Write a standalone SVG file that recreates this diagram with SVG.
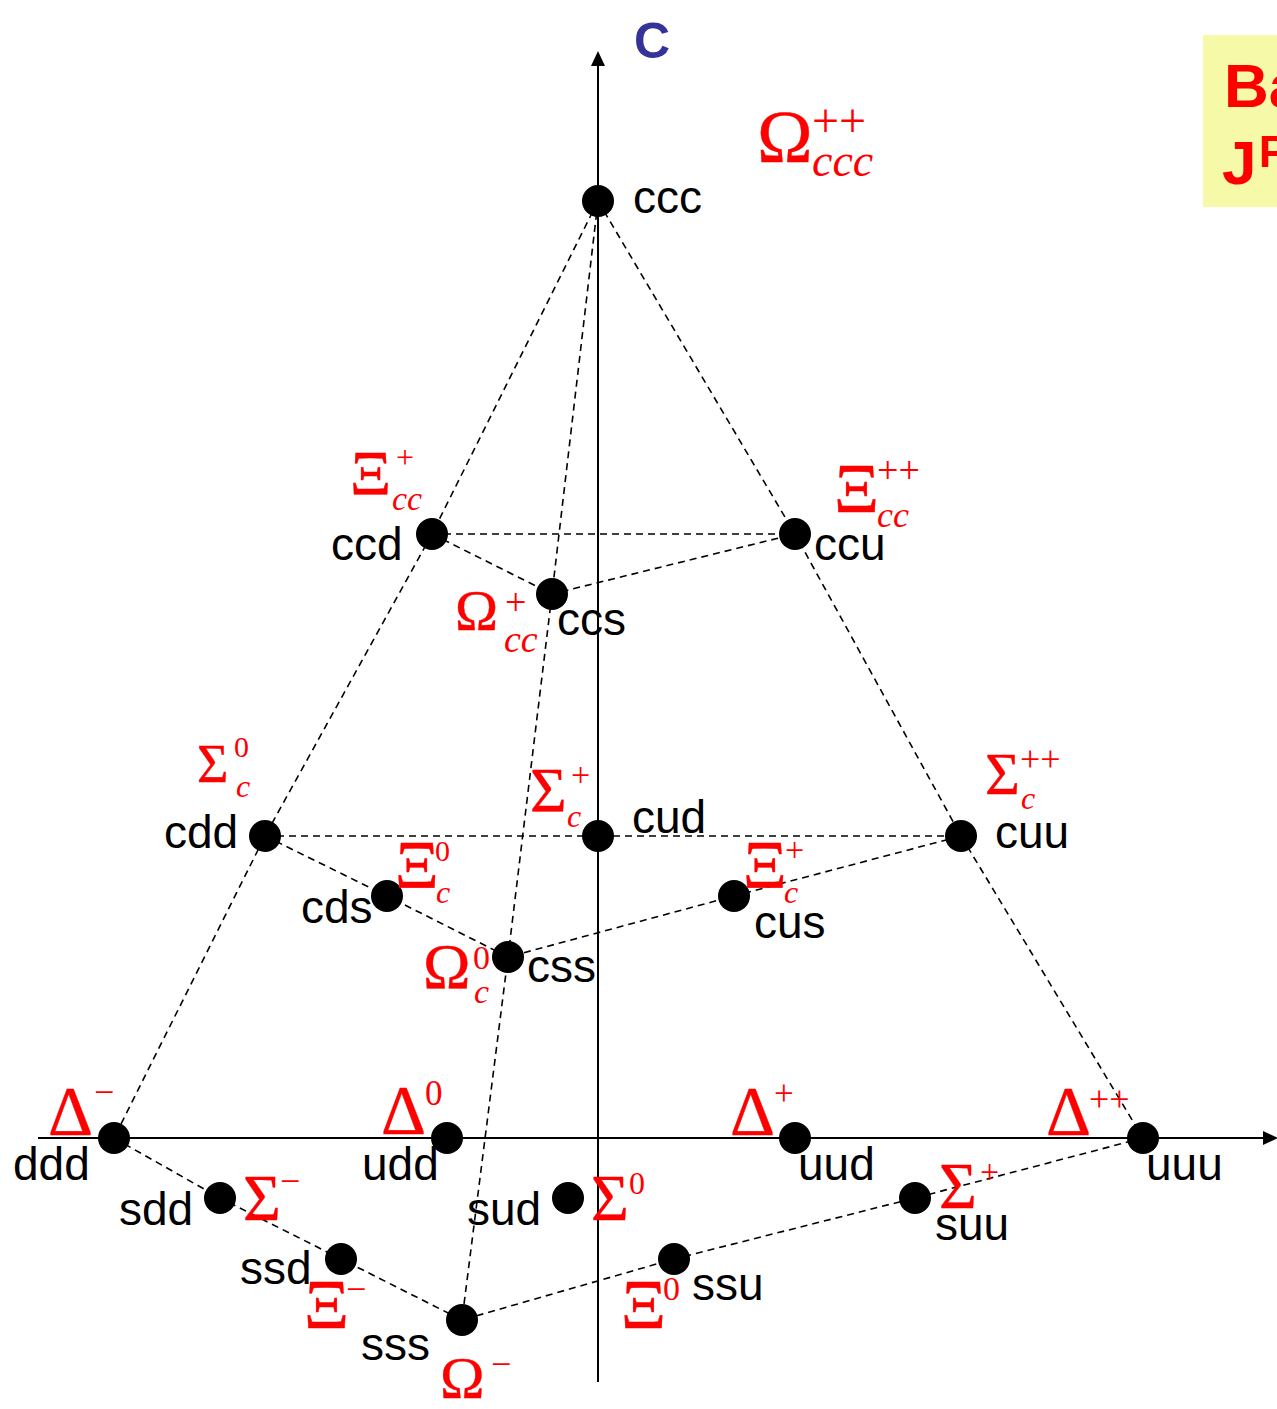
<svg xmlns="http://www.w3.org/2000/svg" width="1277" height="1409" viewBox="0 0 1277 1409">
<style>
.lbl{font-family:"Liberation Sans",Arial,sans-serif;font-size:46px;fill:#000}
.g{font-family:"Liberation Serif","Times New Roman",serif;fill:#ff0000}
.b{stroke:#ff0000;stroke-width:0.4}
.i{font-style:italic}
.dash{fill:none;stroke:#000;stroke-width:1.6;stroke-dasharray:7 5}
.axis{fill:none;stroke:#000;stroke-width:2}
.node{fill:#000}
.title{font-family:"Liberation Sans",Arial,sans-serif;font-weight:bold;fill:#ff0000}
</style>
<rect width="1277" height="1409" fill="#fff"/>
<g id="legend">
<rect x="1203" y="35" width="80" height="172" fill="#f6faa8"/>
<text class="title" x="1224" y="107" font-size="62">Ba</text>
<text class="title" x="1222" y="184" font-size="62">J</text>
<text class="title" x="1259" y="167" font-size="44">P</text>
</g>
<g id="axes">
<line class="axis" x1="598" y1="1382" x2="598" y2="64"/>
<polygon points="598,51 591,66 605,66" fill="#000"/>
<line class="axis" x1="38" y1="1138" x2="1266" y2="1138"/>
<polygon points="1278,1138 1263,1131 1263,1145" fill="#000"/>
<text x="634" y="58" font-family="Liberation Sans,Arial,sans-serif" font-weight="bold" font-size="50" fill="#333399">C</text>
</g>
<g id="connectors">
<polyline class="dash" points="598,201 432,534 265,836 114,1138"/>
<polyline class="dash" points="598,201 795,534 961,836 1143,1138"/>
<polyline class="dash" points="598,201 552,594 508,957 462,1320"/>
<line class="dash" x1="432" y1="534" x2="795" y2="534"/>
<polyline class="dash" points="432,534 552,594 795,534"/>
<line class="dash" x1="265" y1="836" x2="961" y2="836"/>
<polyline class="dash" points="265,836 387,896 508,957 734,896 961,836"/>
<polyline class="dash" points="114,1138 220,1198 341,1259 462,1320 674,1259 915,1198 1143,1138"/>
</g>
<g id="n-ccc"><circle class="node" cx="598" cy="201" r="16"/><text class="lbl" x="633" y="213">ccc</text>
<text class="g b" x="757" y="162" font-size="75">Ω</text><text class="g" x="812" y="137" font-size="48">++</text><text class="g i" x="812" y="176" font-size="46">ccc</text></g>
<g id="n-ccd"><circle class="node" cx="432" cy="534" r="16"/><text class="lbl" x="331" y="560">ccd</text>
<text class="g b" x="350" y="495" font-size="64">Ξ</text><text class="g" x="396" y="468" font-size="32">+</text><text class="g i" x="392" y="510" font-size="34">cc</text></g>
<g id="n-ccu"><circle class="node" cx="795" cy="534" r="16"/><text class="lbl" x="814" y="560">ccu</text>
<text class="g b" x="834" y="512" font-size="70">Ξ</text><text class="g" x="877" y="483" font-size="38">++</text><text class="g i" x="877" y="527" font-size="36">cc</text></g>
<g id="n-ccs"><circle class="node" cx="552" cy="594" r="16"/><text class="lbl" x="557" y="635">ccs</text>
<text class="g b" x="455" y="630" font-size="58">Ω</text><text class="g" x="505" y="615" font-size="38">+</text><text class="g i" x="504" y="652" font-size="38">cc</text></g>
<g id="n-cdd"><circle class="node" cx="265" cy="836" r="16"/><text class="lbl" x="164" y="848">cdd</text>
<text class="g b" x="197" y="782" font-size="54">Σ</text><text class="g" x="234" y="757" font-size="30">0</text><text class="g i" x="236" y="797" font-size="32">c</text></g>
<g id="n-cud"><circle class="node" cx="598" cy="836" r="16"/><text class="lbl" x="632" y="833">cud</text>
<text class="g b" x="530" y="812" font-size="63">Σ</text><text class="g" x="571" y="786" font-size="34">+</text><text class="g i" x="567" y="827" font-size="32">c</text></g>
<g id="n-cuu"><circle class="node" cx="961" cy="836" r="16"/><text class="lbl" x="995" y="848">cuu</text>
<text class="g b" x="985" y="794" font-size="60">Σ</text><text class="g" x="1020" y="771" font-size="36">++</text><text class="g i" x="1021" y="809" font-size="32">c</text></g>
<g id="n-cds"><circle class="node" cx="387" cy="896" r="16"/><text class="lbl" x="301" y="923">cds</text>
<text class="g b" x="395" y="887" font-size="68">Ξ</text><text class="g" x="435" y="861" font-size="30">0</text><text class="g i" x="436" y="903" font-size="32">c</text></g>
<g id="n-cus"><circle class="node" cx="734" cy="896" r="16"/><text class="lbl" x="754" y="938">cus</text>
<text class="g b" x="743" y="887" font-size="68">Ξ</text><text class="g" x="785" y="861" font-size="34">+</text><text class="g i" x="784" y="903" font-size="32">c</text></g>
<g id="n-css"><circle class="node" cx="508" cy="957" r="16"/><text class="lbl" x="527" y="982">css</text>
<text class="g b" x="423" y="988" font-size="64">Ω</text><text class="g" x="473" y="969" font-size="34">0</text><text class="g i" x="474" y="1003" font-size="34">c</text></g>
<g id="n-ddd"><circle class="node" cx="114" cy="1138" r="16"/><text class="lbl" x="13" y="1180">ddd</text>
<text class="g b" x="48" y="1135" font-size="70">Δ</text><text class="g" x="94" y="1104" font-size="36">−</text></g>
<g id="n-udd"><circle class="node" cx="447" cy="1138" r="16"/><text class="lbl" x="362" y="1180">udd</text>
<text class="g b" x="381" y="1134" font-size="70">Δ</text><text class="g" x="425" y="1105" font-size="35">0</text></g>
<g id="n-uud"><circle class="node" cx="795" cy="1138" r="16"/><text class="lbl" x="798" y="1180">uud</text>
<text class="g b" x="730" y="1135" font-size="70">Δ</text><text class="g" x="774" y="1105" font-size="35">+</text></g>
<g id="n-uuu"><circle class="node" cx="1143" cy="1138" r="16"/><text class="lbl" x="1146" y="1180">uuu</text>
<text class="g b" x="1046" y="1135" font-size="70">Δ</text><text class="g" x="1089" y="1111" font-size="36">++</text></g>
<g id="n-sdd"><circle class="node" cx="220" cy="1198" r="16"/><text class="lbl" x="119" y="1225">sdd</text>
<text class="g b" x="243" y="1220" font-size="65">Σ</text><text class="g" x="280" y="1193" font-size="36">−</text></g>
<g id="n-sud"><circle class="node" cx="568" cy="1198" r="16"/><text class="lbl" x="467" y="1225">sud</text>
<text class="g b" x="591" y="1220" font-size="65">Σ</text><text class="g" x="629" y="1194" font-size="32">0</text></g>
<g id="n-suu"><circle class="node" cx="915" cy="1198" r="16"/><text class="lbl" x="935" y="1240">suu</text>
<text class="g b" x="939" y="1208" font-size="65">Σ</text><text class="g" x="980" y="1183" font-size="34">+</text></g>
<g id="n-ssd"><circle class="node" cx="341" cy="1259" r="16"/><text class="lbl" x="240" y="1284">ssd</text>
<text class="g b" x="304" y="1328" font-size="70">Ξ</text><text class="g" x="346" y="1301" font-size="36">−</text></g>
<g id="n-ssu"><circle class="node" cx="674" cy="1259" r="16"/><text class="lbl" x="692" y="1300">ssu</text>
<text class="g b" x="621" y="1328" font-size="70">Ξ</text><text class="g" x="663" y="1300" font-size="34">0</text></g>
<g id="n-sss"><circle class="node" cx="462" cy="1320" r="16"/><text class="lbl" x="361" y="1360">sss</text>
<text class="g b" x="440" y="1398" font-size="60">Ω</text><text class="g" x="491" y="1376" font-size="36">−</text></g>
</svg>
